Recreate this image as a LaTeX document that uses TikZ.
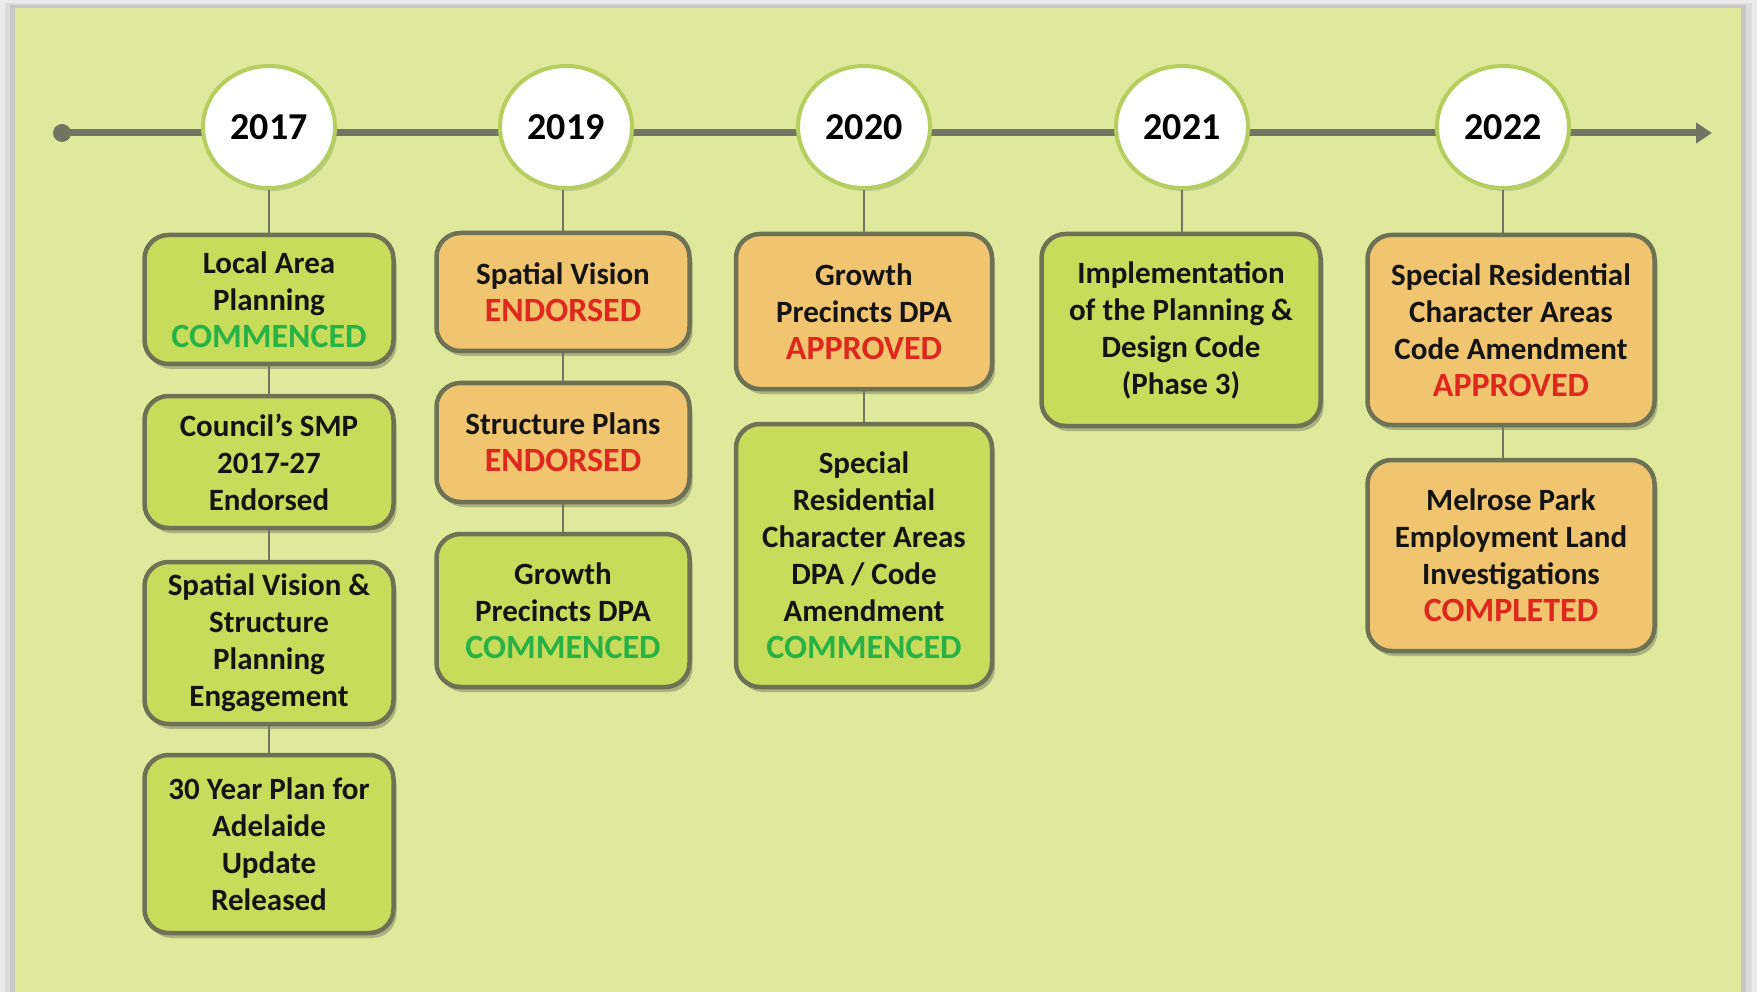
\documentclass[tikz,border=0pt]{standalone}
\usepackage{fontspec}
\setmainfont{Carlito}
\usetikzlibrary{shadows,arrows.meta,shapes.geometric}
\definecolor{bg}{RGB}{222,233,156}
\definecolor{gbox}{RGB}{200,220,92}
\definecolor{obox}{RGB}{241,197,112}
\definecolor{bord}{RGB}{110,114,84}
\definecolor{tlc}{RGB}{112,118,98}
\definecolor{cgreen}{RGB}{40,178,70}
\definecolor{cred}{RGB}{222,40,30}
\definecolor{ring}{RGB}{182,206,96}
\newcommand\stgreen[1]{{\fontsize{34}{37}\selectfont\textcolor{cgreen}{#1}}}
\newcommand\stred[1]{{\fontsize{34}{37}\selectfont\textcolor{cred}{#1}}}
\begin{document}
\begin{tikzpicture}[x=1pt,y=-1pt,
  box/.style={draw=bord, line width=4.5pt, rounded corners=24pt, align=center,
    font=\bfseries\fontsize{31}{37}\selectfont, inner sep=0pt, text=black!92,
    drop shadow={shadow xshift=3pt, shadow yshift=-5pt, opacity=0.35, fill=black!70}},
  gb/.style={box, fill=gbox},
  ob/.style={box, fill=obox},
  yr/.style={ellipse, draw=ring, line width=4pt, fill=white, minimum width=132pt,
    minimum height=122pt, inner sep=0pt, font=\bfseries\fontsize{38}{44}\selectfont,
    drop shadow={shadow xshift=2pt, shadow yshift=-3pt, opacity=0.25, fill=black!60}},
  conn/.style={draw=tlc, line width=2.6pt}]
% frame and background
\useasboundingbox (0,0) rectangle (1757,992);
\fill[white] (0,0) rectangle (1757,992);
\fill[black!8] (0,0) rectangle (1757,992);
\fill[black!14] (5,3) rectangle (1752,992);
\fill[black!22] (10,5) rectangle (1746,992);
\fill[bg] (15,8) rectangle (1741,992);
% timeline
\coordinate (tl0) at (62,133);
\coordinate (tl1) at (1712,133);
\draw[tlc, line width=7pt, -{Triangle[length=16pt,width=20pt]}] (tl0) -- (tl1);
\fill[tlc] (tl0) circle (9pt);
% year circles
\node[yr] (c17) at (269,127) {2017};
\node[yr] (c19) at (566,127) {2019};
\node[yr] (c20) at (864,127) {2020};
\node[yr] (c21) at (1182,127) {2021};
\node[yr] (c22) at (1503,127) {2022};
% 2017
\node[gb, minimum width=249pt, minimum height=129pt] (b171) at (269,299.5) {Local Area\\Planning\\\stgreen{COMMENCED}};
\node[gb, minimum width=249pt, minimum height=132pt] (b172) at (269,462) {Council’s SMP\\2017-27\\Endorsed};
\node[gb, minimum width=249pt, minimum height=162pt] (b173) at (269,643) {Spatial Vision \&\\Structure\\Planning\\Engagement};
\node[gb, minimum width=249pt, minimum height=178pt] (b174) at (269,844) {30 Year Plan for\\Adelaide\\Update\\Released};
% 2019
\node[ob, minimum width=253pt, minimum height=118pt] (b191) at (563,292) {Spatial Vision\\\stred{ENDORSED}};
\node[ob, minimum width=253pt, minimum height=119pt] (b192) at (563,442.5) {Structure Plans\\\stred{ENDORSED}};
\node[gb, minimum width=253pt, minimum height=153pt] (b193) at (563,610.5) {Growth\\Precincts DPA\\\stgreen{COMMENCED}};
% 2020
\node[ob, minimum width=256pt, minimum height=155pt] (b201) at (864,311.5) {Growth\\Precincts DPA\\\stred{APPROVED}};
\node[gb, minimum width=256pt, minimum height=263pt] (b202) at (864,555.5) {Special\\Residential\\Character Areas\\DPA / Code\\Amendment\\\stgreen{COMMENCED}};
% 2021
\node[gb, minimum width=279pt, minimum height=192pt] (b211) at (1181,330) {Implementation\\of the Planning \&\\Design Code\\(Phase 3)};
% 2022
\node[ob, minimum width=287pt, minimum height=190pt] (b221) at (1511,330) {Special Residential\\Character Areas\\Code Amendment\\\stred{APPROVED}};
\node[ob, minimum width=287pt, minimum height=191pt] (b222) at (1511,555.5) {Melrose Park\\Employment Land\\Investigations\\\stred{COMPLETED}};
% connectors
\draw[conn] (c17.south) -- (c17.south |- b171.north);
\draw[conn] (c17.south |- b171.south) -- (c17.south |- b172.north);
\draw[conn] (c17.south |- b172.south) -- (c17.south |- b173.north);
\draw[conn] (c17.south |- b173.south) -- (c17.south |- b174.north);
\draw[conn] (b191.north |- c19.south) -- (b191.north);
\draw[conn] (b191.south) -- (b192.north);
\draw[conn] (b192.south) -- (b193.north);
\draw[conn] (c20.south) -- (c20.south |- b201.north);
\draw[conn] (c20.south |- b201.south) -- (c20.south |- b202.north);
\draw[conn] (c21.south) -- (c21.south |- b211.north);
\draw[conn] (c22.south) -- (c22.south |- b221.north);
\draw[conn] (c22.south |- b221.south) -- (c22.south |- b222.north);
\end{tikzpicture}
\end{document}
